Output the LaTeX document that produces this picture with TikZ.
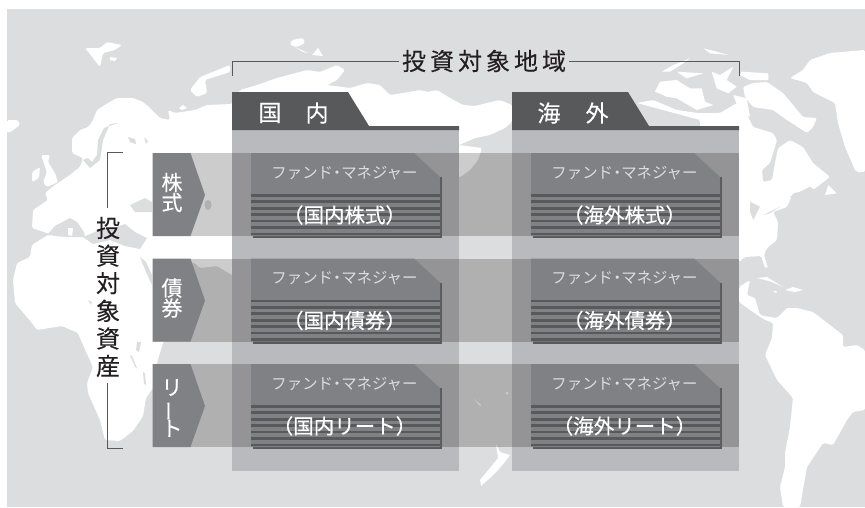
\documentclass[tikz,border=0pt]{standalone}
\usepackage{fontspec}
\usepackage{graphicx}
\setmainfont{Noto Sans CJK JP}
\newfontfamily\boldish[FakeBold=0.35]{Noto Sans CJK JP}
\newfontfamily\midish[FakeBold=0.15]{Noto Sans CJK JP}
\definecolor{sea}{HTML}{DCDDDE}
\definecolor{panel}{HTML}{B9BABD}
\definecolor{midg}{HTML}{808184}
\definecolor{darkg}{HTML}{58595B}
\definecolor{inkc}{HTML}{231F20}
\tikzset{
 land/.style={fill=white,draw=none,rounded corners=1.5pt},
 sharp/.style={fill=white,draw=none},
 water/.style={fill=sea,draw=none},
 colpanel/.style={fill=panel,draw=none},
 rowband/.style={fill=black,fill opacity=.2,draw=none},
 tabshape/.style={fill=darkg,draw=none},
 arrowshape/.style={fill=midg,draw=none},
 bracketline/.style={draw=darkg,line width=.9pt},
 headtext/.style={text=white,inner sep=0pt,font=\midish\fontsize{23}{24}\selectfont},
 sidetext/.style={text=white,inner sep=0pt,align=center,font=\midish\fontsize{21}{20}\selectfont},
 cardtop/.style={text=sea,inner sep=0pt,font=\fontsize{15.4}{17}\selectfont},
 cardname/.style={text=white,inner sep=0pt,font=\boldish\fontsize{20.5}{22}\selectfont},
}
\begin{document}
\begin{tikzpicture}[x=1pt,y=-1pt]
\useasboundingbox (0,0) rectangle (865,507);
\fill[sea] (7,9) rectangle (865,507);
% ---- map: Eurasia + Africa
\fill[land] (512,105)--(500,100)--(487,103)--(475,106)--(463,105)--(450,98)--(437,90)--(428,92)--(420,90)--(403,93)--(390,95)--(380,85)--(367,83)--(350,88)--(327,85)--(337,80)--(345,70)--(337,65)--(320,72)--(307,70)--(277,78)--(257,85)--(240,90)--(232,104)--(207,105)--(195,110)--(175,113)--(168,110)--(170,120)--(160,118)--(150,108)--(143,102)--(133,98)--(117,98)--(108,103)--(97,110)--(92,122)--(88,127)--(80,130)--(72,138)--(72,153)--(83,158)--(80,167)--(67,177)--(55,185)--(45,193)--(48,200)--(33,210)--(32,228)--(50,234)--(43,238)--(32,245)--(30,257)--(17,263)--(13,280)--(15,303)--(32,323)--(37,330)--(62,326)--(78,333)--(83,345)--(93,367)--(87,383)--(88,393)--(100,420)--(105,440)--(120,441)--(133,431)--(143,416)--(146,398)--(155,385)--(157,363)--(163,343)--(190,300)--(190,262)--(195,263)--(200,268)--(217,266)--(232,275)--(300,330)--(459,145)--(475,138)--(490,135)--(505,128)--(512,122)--cycle;
\fill[land] (459,145)--(482,148)--(478,160)--(470,170)--(459,178)--cycle;
% seas and lakes
\fill[water] (118,123)--(110,124)--(103,140)--(100,160)--(90,168)--(83,160)--(88,158)--(92,162)--(97,155)--(98,140)--(104,128)--cycle;
\fill[water] (128,137)--(135,139)--(136,144)--(130,142)--cycle;
\fill[water] (144,137)--(148,141)--(146,144)--cycle;
\fill[water] (47,235)--(55,226)--(70,218)--(77,222)--(84,232)--(85,237)--(65,237)--cycle;
\fill[water] (83,237)--(93,244)--(110,240)--(125,246)--(140,249)--(147,238)--(135,232)--(125,224)--(113,228)--(100,228)--(95,232)--cycle;
\fill[water] (130,205)--(145,198)--(152,202)--(152,212)--(135,212)--cycle;
\fill[water] (140,257)--(146,262)--(152,275)--(152,285)--(146,272)--cycle;
\fill[water] (208,205) ellipse (3.5 and 5);
\fill[water] (88,300)--(92,302)--(91,305)--cycle;
\fill[water] (137,342)--(141,342)--(139,352)--(136,350)--cycle;
\fill[water] (130,355)--(132,356)--(137,368)--(135,367)--cycle;
\fill[water] (143,372)--(145,373)--(146,385)--(144,384)--cycle;
% arctic and european islands
\fill[land] (230,65)--(200,77)--(190,90)--(197,97)--(207,93)--(205,80)--(230,72)--cycle;
\fill[sharp] (183,105)--(187,108)--(182,110)--(179,108)--cycle;
\fill[land] (85,48)--(100,48)--(107,42)--(122,45)--(115,50)--(103,53)--(100,67)--(93,58)--cycle;
\fill[sharp] (110,57)--(117,58)--(115,61)--(110,60)--cycle;
\fill[land] (7,120)--(18,120)--(20,125)--(12,131)--(7,133)--cycle;
\fill[land] (292,40)--(303,38)--(305,43)--(297,47)--(290,45)--cycle;
\fill[sharp] (295,47)--(308,53)--(303,52)--cycle;
\fill[sharp] (312,55)--(318,48)--(323,56)--cycle;
\fill[land] (41,155)--(50,155)--(48,162)--(55,173)--(58,182)--(47,187)--(43,182)--(47,172)--cycle;
\fill[land] (32,172)--(40,167)--(39,178)--(32,182)--cycle;
\fill[sharp] (68,228)--(73,228)--(72,236)--(68,235)--cycle;
% ---- map: the Americas and Greenland
\fill[land] (637,103)--(653,100)--(677,110)--(697,113)--(720,113)--(737,103)--(745,110)--(753,127)--(773,133)--(777,140)--(775,147)--(770,163)--(762,170)--(763,182)--(772,180)--(775,163)--(778,148)--(790,140)--(803,147)--(813,163)--(830,177)--(813,190)--(793,193)--(787,207)--(773,212)--(778,222)--(777,240)--(767,248)--(764,255)--(768,268)--(765,268)--(761,256)--(745,257)--(739,262)--(700,262)--(700,120)--cycle;
\fill[land] (743,87)--(753,83)--(767,82)--(783,93)--(803,117)--(817,118)--(813,127)--(807,133)--(787,120)--(773,110)--(753,107)--(745,97)--cycle;
\fill[land] (790,78)--(803,70)--(810,60)--(830,53)--(865,50)--(865,172)--(857,172)--(855,170)--(845,147)--(838,123)--(835,103)--(813,92)--(807,83)--cycle;
\begin{scope}[shift={(520,30)},scale=.33333]
\fill[sharp] (405,185)--(420,155)--(470,150)--(510,175)--(545,175)--(555,215)--(580,225)--(530,240)--(470,205)--(440,200)--cycle;
\fill[sharp] (425,125)--(460,105)--(510,85)--(490,100)--(450,125)--cycle;
\fill[sharp] (470,125)--(550,130)--(500,145)--cycle;
\fill[sharp] (550,55)--(590,65)--(625,75)--(570,70)--cycle;
\fill[sharp] (575,125)--(600,135)--(640,110)--(630,130)--(620,150)--(650,170)--(625,190)--(590,175)--cycle;
\fill[sharp] (665,125)--(745,130)--(745,150)--(690,150)--(660,135)--cycle;
\fill[sharp] (640,195)--(680,205)--(690,260)--(660,250)--cycle;
\fill[sharp] (925,465)--(950,490)--(915,495)--cycle;
\fill[water] (690,515)--(720,530)--(700,570)--(690,545)--cycle;
\fill[water] (730,555)--(780,530)--(750,550)--cycle;
\fill[water] (810,500)--(870,470)--(885,480)--(840,505)--cycle;
\fill[water] (415,275)--(450,265)--(430,280)--cycle;
\end{scope}
\fill[land] (739,287)--(750,280)--(748,290)--(747,295)--(755,298)--(760,315)--(770,317)--(777,318)--(787,308)--(797,308)--(813,312)--(830,325)--(843,335)--(843,347)--(857,345)--(865,350)--(865,410)--(853,412)--(847,420)--(833,445)--(823,443)--(807,467)--(800,507)--(783,507)--(780,487)--(785,467)--(785,453)--(790,427)--(793,398)--(777,380)--(765,355)--(772,338)--(773,323)--(765,320)--(753,312)--(739,302)--cycle;
\fill[sharp] (757,278)--(767,277)--(783,287)--(772,282)--cycle;
\fill[sharp] (785,290)--(793,287)--(803,290)--(795,292)--cycle;
\fill[sharp] (773,291)--(777,291)--(776,293)--cycle;
% New Zealand, specks
\fill[sharp] (496,444)--(500,452)--(510,455)--(505,462)--(498,470)--(490,478)--(481,486)--(480,480)--(490,468)--(498,458)--cycle;
\fill[sharp] (474,399)--(481,405)--(480,406)--cycle;
\fill[sharp] (507,393) circle (1.5);
% ---- column panels, row bands
\foreach \cx in {232,512} {
  \fill[colpanel] (\cx,130) rectangle ++(227,341);
}
\foreach \ry in {153,258.5,364} {
  \fill[rowband] (152.5,\ry) rectangle (739,\ry+83);
  \fill[arrowshape] (152.5,\ry)--(190.5,\ry)--(205,\ry+42)--(190.5,\ry+83)--(152.5,\ry+83)--cycle;
}
% ---- tabs
\foreach \cx in {232,512} {
  \fill[tabshape] (\cx,92)--(\cx+116,92)--(\cx+137,126)--(\cx+227,126)--(\cx+227,130)--(\cx,130)--cycle;
}
% ---- cards
\foreach \cx in {251,531} {
 \foreach \ry in {153,258.5,364} {
  \fill[darkg] (\cx+2,\ry+24)--(\cx+191,\ry+24)--(\cx+191,\ry+85)--(\cx+2,\ry+85)--cycle;
  \fill[midg] (\cx,\ry)--(\cx+163,\ry)--(\cx+189,\ry+24)--(\cx+189,\ry+83)--(\cx,\ry+83)--cycle;
  \foreach \k in {0,...,6} {
    \fill[darkg] (\cx,\ry+41+6.42*\k) rectangle (\cx+189,\ry+43.8+6.42*\k);
  }
 }
}
% ---- labels
\node[headtext] (hA) at (270,113) {国};
\node[headtext] (hB) at (317,113) {内};
\node[headtext] (hC) at (549,113) {海};
\node[headtext] (hD) at (597,113) {外};
\node[sidetext] (sA) at (172,192.5) {株\\式};
\node[sidetext] (sB) at (172,298) {債\\券};
\node[sidetext,font=\midish\fontsize{21}{20.5}\selectfont] (sC) at (172,408) {リ\\\smash{\rotatebox[origin=c]{90}{ー}}\\ト};
\foreach \cx/\na/\nb/\nc in {344.5/国内株式/国内債券/国内リート,624.5/海外株式/海外債券/海外リート} {
  \node[cardtop] at (\cx,173) {ファンド\kern-3.6pt・\kern-3.6ptマネジャー};
  \node[cardtop] at (\cx,278.5) {ファンド\kern-3.6pt・\kern-3.6ptマネジャー};
  \node[cardtop] at (\cx,384) {ファンド\kern-3.6pt・\kern-3.6ptマネジャー};
  \node[cardname] at (\cx,215) {（\na）};
  \node[cardname] at (\cx,320.5) {（\nb）};
  \node[cardname] at (\cx,426) {（\nc）};
}
\node[inner sep=0pt,text=inkc,font=\midish\fontsize{24}{26}\selectfont] (ttl) at (484,61) {投\kern4pt 資\kern4pt 対\kern4pt 象\kern4pt 地\kern4pt 域};
\node[inner sep=0pt,text=inkc,align=center,font=\midish\fontsize{24}{27.6}\selectfont] (vtl) at (108,297) {投\\資\\対\\象\\資\\産};
% ---- brackets
\coordinate (tl) at (232,76);
\coordinate (tr) at (739,76);
\coordinate (vt) at (123,152);
\coordinate (vb) at (123,448);
\coordinate (vA) at (107.5,208);
\coordinate (vB) at (107.5,383);
\draw[bracketline] (ttl.west) ++(-3pt,0) -- (232,61) -- (tl);
\draw[bracketline] (ttl.east) ++(3pt,0) -- (739,61) -- (tr);
\draw[bracketline] (vA) -- (107.5,152) -- (vt);
\draw[bracketline] (vB) -- (107.5,448) -- (vb);
\end{tikzpicture}
\end{document}
